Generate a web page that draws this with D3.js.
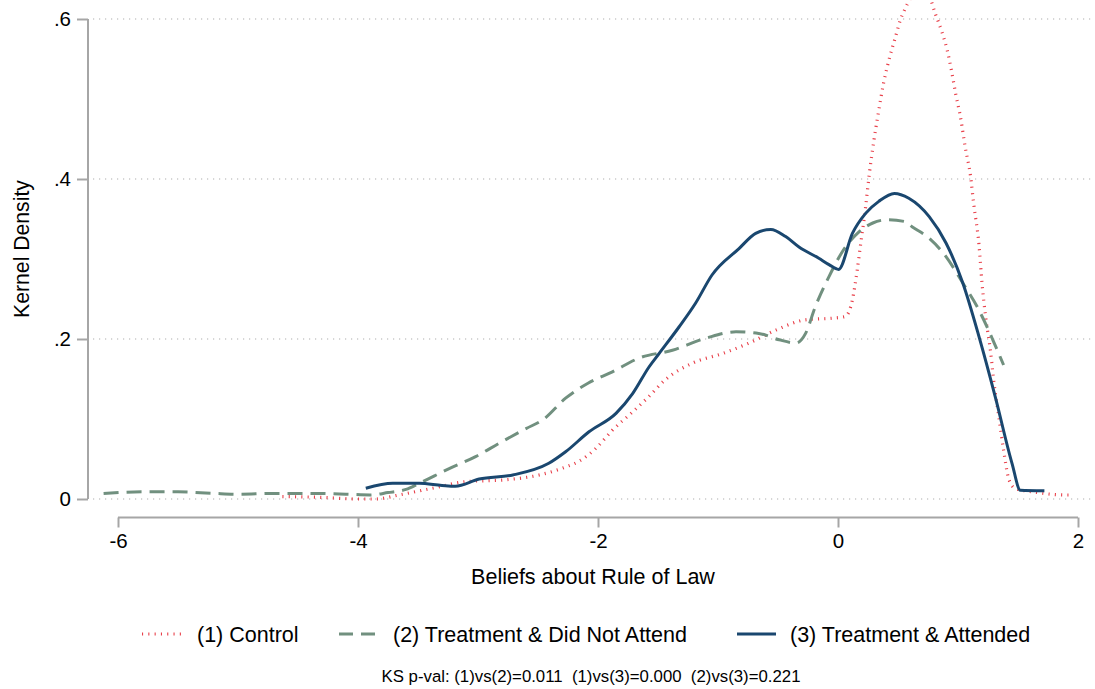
<!DOCTYPE html>
<html>
<head>
<meta charset="utf-8">
<script src="https://cdn.jsdelivr.net/npm/d3@7"></script>
<style>
  html, body { margin: 0; padding: 0; background: #fff; }
  svg { display: block; font-family: "Liberation Sans", Arial, Helvetica, sans-serif; }
</style>
</head>
<body>
<svg id="chart" width="1095" height="689"></svg>
<script>
// Kernel density estimates of beliefs about rule of law, by group

// (1) Control
const controlX = [-4.63, -4.3, -4.02, -3.85, -3.66, -3.38, -3.1, -2.77, -2.49, -2.27, -2.16, -2.02, -1.88, -1.71, -1.59,
  -1.44, -1.21, -0.96, -0.74, -0.52, -0.27, -0.05, 0.06, 0.12, 0.16, 0.19, 0.23, 0.26, 0.30, 0.34, 0.38, 0.425,
  0.48, 0.52, 0.56, 0.6, 0.68, 0.76, 0.81, 0.87, 0.91, 0.95, 0.98, 1.02, 1.06, 1.105, 1.13, 1.175, 1.2, 1.23,
  1.27, 1.3, 1.34, 1.38, 1.425, 1.48, 1.62, 1.9, 1.925];
const controlY = [0.003, 0.002, 0.0, 0.0, 0.005, 0.0134, 0.0217, 0.024, 0.030, 0.040, 0.047, 0.063, 0.086, 0.109, 0.126,
  0.149, 0.170, 0.182, 0.195, 0.211, 0.224, 0.226, 0.228, 0.249, 0.286, 0.320, 0.365, 0.405, 0.449, 0.486, 0.520, 0.549,
  0.578, 0.599, 0.613, 0.625, 0.635, 0.628, 0.607, 0.582, 0.561, 0.532, 0.507, 0.478, 0.440, 0.403, 0.370, 0.3175, 0.27, 0.228,
  0.186, 0.145, 0.103, 0.061, 0.024, 0.013, 0.009, 0.005, 0.005];

// (2) Treatment & Did Not Attend
const notAttendX = [-6.12, -5.8, -5.5, -5.2, -5.0, -4.7, -4.4, -4.1, -3.9, -3.75, -3.6, -3.49, -3.24, -3.02, -2.82,
  -2.6, -2.46, -2.27, -2.08, -1.88, -1.66, -1.38, -1.1, -0.85, -0.66, -0.49, -0.35, -0.27, -0.19, -0.075, 0.036,
  0.175, 0.29, 0.41, 0.55, 0.62, 0.76, 0.9, 1.04, 1.175, 1.29, 1.38];
const notAttendY = [0.007, 0.009, 0.009, 0.007, 0.006, 0.007, 0.007, 0.006, 0.005, 0.008, 0.012, 0.0196, 0.038, 0.053, 0.070,
  0.088, 0.099, 0.126, 0.145, 0.159, 0.176, 0.186, 0.201, 0.209, 0.207, 0.199, 0.195, 0.207, 0.240, 0.278, 0.309,
  0.334, 0.345, 0.349, 0.347, 0.340, 0.326, 0.303, 0.270, 0.236, 0.199, 0.1675];

// (3) Treatment & Attended
const attendedX = [-3.935, -3.71, -3.49, -3.3, -3.19, -2.99, -2.71, -2.41, -2.27, -2.075, -1.85, -1.71, -1.575, -1.49,
  -1.325, -1.186, -1.05, -0.825, -0.686, -0.56, -0.436, -0.325, -0.16, -0.075, 0.005, 0.12, 0.23, 0.34, 0.47, 0.59,
  0.76, 0.9, 1.04, 1.175, 1.31, 1.45, 1.52, 1.72];
const attendedY = [0.0134, 0.0196, 0.0196, 0.017, 0.016, 0.025, 0.030, 0.0446, 0.059, 0.084, 0.107, 0.132, 0.165, 0.182,
  0.215, 0.245, 0.280, 0.313, 0.332, 0.337, 0.328, 0.315, 0.301, 0.293, 0.287, 0.332, 0.357, 0.372, 0.382, 0.376,
  0.353, 0.320, 0.270, 0.203, 0.128, 0.0446, 0.011, 0.0104];

const xTicks = [-6, -4, -2, 0, 2];
const yTicks = [0, 0.2, 0.4, 0.6];
const yTickLabels = ["0", ".2", ".4", ".6"];

const seriesNames = ["(1) Control", "(2) Treatment & Did Not Attend", "(3) Treatment & Attended"];
const noteText = "KS p-val: (1)vs(2)=0.011\u00a0\u00a0(1)vs(3)=0.000\u00a0\u00a0(2)vs(3)=0.221";

const series = [
  { name: seriesNames[0], xs: controlX, ys: controlY, color: "#e8404a", width: 3.2, dash: "1.1 5.2", legendDash: "1.1 5.2" },
  { name: seriesNames[1], xs: notAttendX, ys: notAttendY, color: "#71907f", width: 3, dash: "15 8", legendDash: "14 8" },
  { name: seriesNames[2], xs: attendedX, ys: attendedY, color: "#1a476f", width: 3, dash: null, legendDash: null }
];

const svg = d3.select("#chart");
const x = d3.scaleLinear().domain([-6, 2]).range([118, 1078]);
const y = d3.scaleLinear().domain([0, 0.6]).range([499, 19]);

const axisColor = "#a6a6a6";
const fontFamily = "Liberation Sans, Arial, sans-serif";

// horizontal grid lines
svg.append("g").selectAll("line").data(yTicks).join("line")
  .attr("x1", 93).attr("x2", 1095)
  .attr("y1", d => y(d)).attr("y2", d => y(d))
  .attr("stroke", "#c9c9c9").attr("stroke-width", 1.3)
  .attr("stroke-dasharray", "1.2 4.8");

// y axis
const yAxis = d3.axisLeft(y).tickValues(yTicks)
  .tickFormat((d, i) => yTickLabels[i]).tickSize(11).tickPadding(6);
const gy = svg.append("g").attr("transform", "translate(88,0)").call(yAxis);
gy.select(".domain").attr("d", `M0,${y(0.6)}V${y(0)}`).attr("stroke", axisColor).attr("stroke-width", 2);
gy.selectAll(".tick line").attr("stroke", axisColor).attr("stroke-width", 2);
gy.selectAll(".tick text").attr("font-size", 20.5).attr("fill", "#000").attr("font-family", fontFamily);

// x axis
const xAxis = d3.axisBottom(x).tickValues(xTicks).tickFormat(d3.format("d")).tickSize(10).tickPadding(6);
const gx = svg.append("g").attr("transform", "translate(0,517.5)").call(xAxis);
gx.select(".domain").attr("d", `M${x(-6)},0H${x(2)}`).attr("stroke", axisColor).attr("stroke-width", 2);
gx.selectAll(".tick line").attr("stroke", axisColor).attr("stroke-width", 2);
gx.selectAll(".tick text").attr("font-size", 20.5).attr("fill", "#000").attr("font-family", fontFamily)
  .text(d => d < 0 ? "-" + Math.abs(d) : String(d));

// density curves
const line = d3.line().x(d => x(d[0])).y(d => y(d[1])).curve(d3.curveMonotoneX);
series.forEach(s => {
  const pts = s.xs.map((v, i) => [v, s.ys[i]]);
  const p = svg.append("path").datum(pts)
    .attr("d", line)
    .attr("fill", "none")
    .attr("stroke", s.color)
    .attr("stroke-width", s.width)
    .attr("stroke-linejoin", "round");
  if (s.dash) p.attr("stroke-dasharray", s.dash);
});

// axis titles
svg.append("text")
  .attr("x", 593).attr("y", 584)
  .attr("text-anchor", "middle").attr("font-size", 21.5).attr("fill", "#000")
  .text("Beliefs about Rule of Law");
svg.append("text")
  .attr("transform", "translate(29,249) rotate(-90)")
  .attr("text-anchor", "middle").attr("font-size", 21.2).attr("fill", "#000")
  .text("Kernel Density");

// legend
const legendPos = [
  { x0: 142, tx: 197 },
  { x0: 339, tx: 393 },
  { x0: 737, tx: 790 }
];
const lg = svg.append("g");
series.forEach((s, i) => {
  const pos = legendPos[i];
  const l = lg.append("line")
    .attr("x1", pos.x0).attr("x2", pos.x0 + 39)
    .attr("y1", 634).attr("y2", 634)
    .attr("stroke", s.color).attr("stroke-width", s.width);
  if (s.legendDash) l.attr("stroke-dasharray", s.legendDash);
  lg.append("text")
    .attr("x", pos.tx).attr("y", 641.5)
    .attr("font-size", 21.5).attr("fill", "#000")
    .text(s.name);
});

// note
svg.append("text")
  .attr("x", 591).attr("y", 682)
  .attr("text-anchor", "middle").attr("font-size", 16.8).attr("fill", "#000")
  .text(noteText);
</script>
</body>
</html>
